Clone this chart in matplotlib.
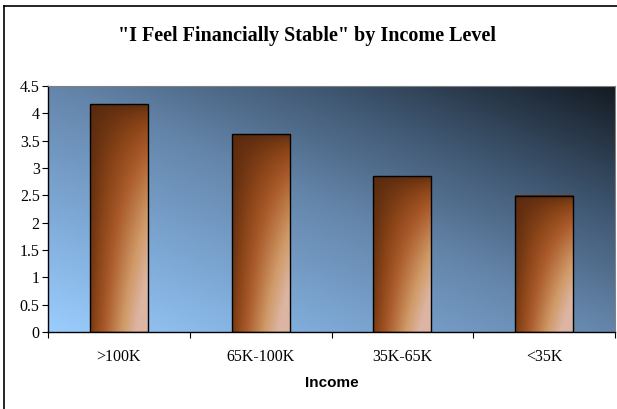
import matplotlib.pyplot as plt
import numpy as np
from matplotlib.colors import LinearSegmentedColormap

# data
categories = ['>100K', '65K-100K', '35K-65K', '<35K']
scores = [4.17, 3.62, 2.85, 2.49]
yticks = [0, 0.5, 1, 1.5, 2, 2.5, 3, 3.5, 4, 4.5]

title = '"I Feel Financially Stable" by Income Level'
xlabel = 'Income'


def main():

    my_dpi = 100
    fig = plt.figure(figsize=(617 / my_dpi, 409 / my_dpi), dpi=my_dpi)
    ax = fig.add_axes([48 / 617, 1 - 332 / 409, 567 / 617, 246 / 409])

    # background gradient of the plot area, light blue bottom-left -> navy top-right
    bg_cmap = LinearSegmentedColormap.from_list(
        'bg', ['#9acdfd', '#7ea9d6', '#6586ab', '#3d546e', '#141b23'])
    u, v = np.meshgrid(np.linspace(0, 1, 300), np.linspace(0, 1, 200))
    t = (u + v) / 2
    ax.imshow(t, cmap=bg_cmap, origin='lower', extent=(0, 1, 0, 1),
              transform=ax.transAxes, aspect='auto', zorder=0)

    # bars with a brown gradient fill
    bar_cmap = LinearSegmentedColormap.from_list(
        'bar', [(0.0, '#5a2a0e'), (0.22, '#8a4418'), (0.42, '#ab5c2c'),
                (0.75, '#d09a68'), (1.0, '#dcb5a3')])
    a, b = np.meshgrid(np.linspace(0, 1, 60), np.linspace(0, 1, 200))
    s = a * (1 - b) ** 0.6 + 0.12 * (1 - b) + 0.1 * np.sqrt(a) * (1 - b)
    s = np.clip(s, 0, 1)

    x = np.arange(len(categories))
    bars = ax.bar(x, scores, width=0.41, fill=False, edgecolor='black',
                  linewidth=1.0, zorder=3)
    for bar in bars:
        x0, w, h = bar.get_x(), bar.get_width(), bar.get_height()
        ax.imshow(s, cmap=bar_cmap, vmin=0, vmax=1, origin='lower',
                  extent=(x0, x0 + w, 0, h), aspect='auto', zorder=2)

    ax.set_xlim(-0.5, len(categories) - 0.5)
    ax.set_ylim(0, 4.5)

    # y axis
    ax.set_yticks(yticks)
    ax.set_yticklabels(['%g' % v for v in yticks], family='Liberation Serif',
                       fontsize=11.5)
    ax.tick_params(axis='y', direction='out', length=4, width=0.8, pad=2)

    # x axis: ticks between categories, labels centred
    ax.set_xticks(np.arange(-0.5, len(categories), 1.0))
    ax.set_xticklabels([])
    ax.set_xticks(x, minor=True)
    ax.set_xticklabels(categories, minor=True, family='Liberation Serif',
                       fontsize=11.5)
    ax.tick_params(axis='x', which='major', direction='out', length=4, width=0.8)
    ax.tick_params(axis='x', which='minor', length=0, pad=12)

    ax.set_xlabel(xlabel, family='Liberation Sans', fontweight='bold',
                  fontsize=11, labelpad=8)

    for side in ['top', 'right']:
        ax.spines[side].set_color('#808080')
        ax.spines[side].set_linewidth(0.8)
    for side in ['left', 'bottom']:
        ax.spines[side].set_color('black')
        ax.spines[side].set_linewidth(1.0)

    fig.text(307 / 617, 1 - 36 / 409, title, family='Liberation Serif',
             fontweight='bold', fontsize=14.5, ha='center', va='center')

    # chart area frame (left and top edges visible in the crop)
    fig.add_artist(plt.Line2D([4 / 617, 4 / 617], [0, 1 - 6 / 409],
                              color='black', lw=1.2))
    fig.add_artist(plt.Line2D([4 / 617, 1], [1 - 6 / 409, 1 - 6 / 409],
                              color='black', lw=1.2))

    plt.savefig('out.png', dpi=my_dpi)


if __name__ == '__main__':
    main()
